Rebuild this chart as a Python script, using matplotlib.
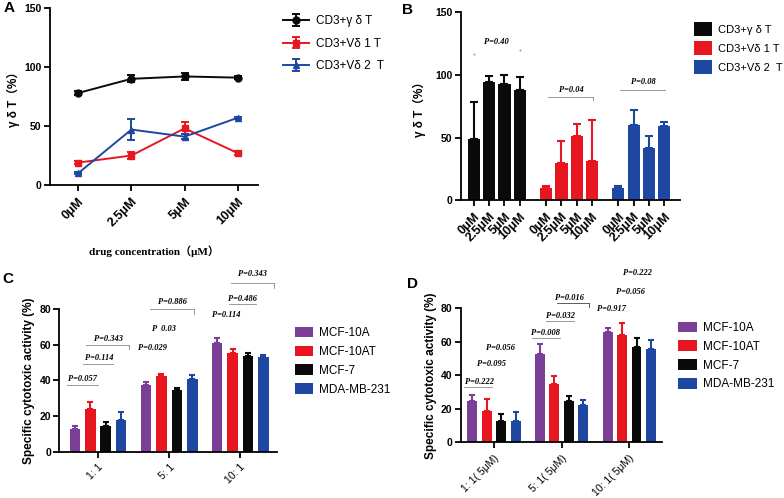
import numpy as np
import matplotlib
matplotlib.use("Agg")
import matplotlib.pyplot as plt

plt.rcParams['font.family'] = ['Liberation Sans', 'Noto Sans CJK SC', 'DejaVu Sans']
plt.rcParams['axes.linewidth'] = 1.3

BLACK = '#0a0a0a'
RED = '#e8161e'
BLUE = '#1d47a0'
PURPLE = '#7b3f98'

# ---- panel A / B data
conc = ['0μM', '2.5μM', '5μM', '10μM']
a_gd = [78, 90, 92, 91]
a_gd_err = [1.5, 3, 3, 1]
a_v1 = [19, 25, 48, 27]
a_v1_err = [1.5, 3, 5, 1.5]
a_v2 = [10, 47, 41, 57]
a_v2_err = [1, 9, 2, 1]

b_gd = [49, 94, 93, 88]
b_gd_err = [29, 5, 7, 10]
b_v1 = [10, 30, 51, 31]
b_v1_err = [1, 17, 10, 33]
b_v2 = [10, 60, 42, 59]
b_v2_err = [1, 12, 9, 3]
series_labels = ['CD3+γ δ T', 'CD3+Vδ 1 T', 'CD3+Vδ 2  T']

# ---- panel C / D data
cells = ['MCF-10A', 'MCF-10AT', 'MCF-7', 'MDA-MB-231']
c_ratio = ['1: 1', '5: 1', '10: 1']
c_vals = [[12.5, 37.5, 61], [24, 42.5, 55.5], [14.5, 34.5, 53.5], [17.5, 41, 53]]
c_err = [[2, 1.5, 3], [4, 1, 2], [2, 1, 2], [4.5, 2, 1.2]]
d_ratio = ['1: 1( 5μM)', '5: 1( 5μM)', '10: 1( 5μM)']
d_vals = [[24.5, 53, 66], [18.5, 35, 64], [13, 24.5, 57], [12.5, 22, 55.5]]
d_err = [[3.5, 6, 2], [7.5, 4.5, 7.5], [4, 3, 5.5], [5.5, 3.5, 5.5]]


def style_axes(ax, xsize=8.5):
    ax.spines['top'].set_visible(False)
    ax.spines['right'].set_visible(False)
    ax.tick_params(axis='both', direction='out', width=1.3, length=4)
    ax.tick_params(axis='y', labelsize=7.5, pad=2)
    ax.tick_params(axis='x', labelsize=xsize)
    for lab in ax.get_yticklabels() + ax.get_xticklabels():
        lab.set_fontweight('bold')


def pval(ax, x, y, txt, x0=None, x1=None, ly=None, hook=False, lc='#888888'):
    ax.text(x, y, txt, fontsize=6, style='italic', fontweight='bold',
            family='Liberation Serif', ha='center', va='center', clip_on=False)
    if x0 is not None:
        ax.plot([x0, x1], [ly, ly], color=lc, lw=0.6, clip_on=False)
        if hook:
            ax.plot([x1, x1], [ly, ly - 2.5], color=lc, lw=0.6, clip_on=False)


fig = plt.figure(figsize=(7.84, 4.98), dpi=100)

# ---------------- A
axA = fig.add_axes([0.0638, 0.6285, 0.2653, 0.3554])
xa = np.arange(len(conc))
for vals, err, col, mk, lab in [(a_gd, a_gd_err, BLACK, 'o', series_labels[0]),
                                (a_v1, a_v1_err, RED, 's', series_labels[1]),
                                (a_v2, a_v2_err, BLUE, '^', series_labels[2])]:
    axA.errorbar(xa, vals, yerr=err, color=col, marker=mk, markersize=5, lw=1.4,
                 capsize=3, elinewidth=1.4, capthick=1.4, label=lab)
axA.set_xlim(-0.53, 3.38)
axA.set_ylim(0, 150)
axA.set_yticks([0, 50, 100, 150])
axA.set_xticks(xa)
axA.set_xticklabels(conc, rotation=45, ha='right', rotation_mode='anchor')
axA.set_ylabel('γ δ T（%）', fontsize=8.5, fontweight='bold')
axA.yaxis.set_label_coords(-0.145, 0.5)
axA.set_xlabel('drug concentration（μM）', fontsize=8, fontweight='bold',
               family=['Liberation Serif', 'Noto Sans CJK SC'], labelpad=12)
style_axes(axA, 9)
axA.legend(loc='upper left', bbox_to_anchor=(1.07, 1.02), frameon=False, fontsize=8.5,
           handlelength=2.2, handletextpad=0.6, labelspacing=0.9)
fig.text(0.005, 0.975, 'A', fontsize=11, fontweight='bold')

# ---------------- B
axB = fig.add_axes([0.588, 0.598, 0.2793, 0.3775])
offs = [0, 4.75, 9.5]
for g, (vals, err, col) in enumerate([(b_gd, b_gd_err, BLACK), (b_v1, b_v1_err, RED),
                                      (b_v2, b_v2_err, BLUE)]):
    xb = offs[g] + np.arange(4)
    axB.bar(xb, vals, width=0.8, color=col, label=series_labels[g])
    axB.errorbar(xb, vals, yerr=[np.zeros(4), err], fmt='none', ecolor=col,
                 elinewidth=1.5, capsize=3, capthick=1.5)
axB.set_xlim(-0.86, 13.55)
axB.set_ylim(0, 150)
axB.set_yticks([0, 50, 100, 150])
axB.set_xticks(np.concatenate([o + np.arange(4) for o in offs]))
axB.set_xticklabels(conc * 3, rotation=45, ha='right', rotation_mode='anchor')
axB.set_ylabel('γ δ T（%）', fontsize=8.5, fontweight='bold')
axB.yaxis.set_label_coords(-0.16, 0.5)
style_axes(axB, 9)
pval(axB, 1.45, 126, 'P=0.40')
axB.plot([0.0], [117], marker='.', ms=1, color='#999999')
axB.plot([3.0], [120], marker='.', ms=1, color='#999999')
pval(axB, 6.43, 88, 'P=0.04', 4.89, 7.81, 82.4, hook=True)
pval(axB, 11.14, 94, 'P=0.08', 9.6, 12.57, 87.8)
axB.legend(loc='upper left', bbox_to_anchor=(1.02, 1.0), frameon=False, fontsize=8,
           handlelength=1.6, handleheight=1.5, handletextpad=0.5, labelspacing=0.5)
fig.text(0.513, 0.972, 'B', fontsize=11, fontweight='bold')


def bar_panel(rect, vals, err, ratio, gstep, xlim, legend_anchor):
    ax = fig.add_axes(rect)
    cols = [PURPLE, RED, BLACK, BLUE]
    centers = np.arange(len(ratio)) * gstep
    for i in range(4):
        xs = centers + (i - 1.5)
        ax.bar(xs, vals[i], width=0.68, color=cols[i], label=cells[i])
        ax.errorbar(xs, vals[i], yerr=[np.zeros(3), err[i]], fmt='none', ecolor=cols[i],
                    elinewidth=1.5, capsize=2.5, capthick=1.5)
    ax.set_xlim(*xlim)
    ax.set_ylim(0, 80)
    ax.set_yticks([0, 20, 40, 60, 80])
    ax.set_xticks(centers)
    ax.set_xticklabels(ratio, rotation=45, ha='right', rotation_mode='anchor')
    ax.set_ylabel('Specific cytotoxic activity (%)', fontsize=8.5, fontweight='bold', labelpad=3)
    style_axes(ax, 7.5)
    for lab in ax.get_xticklabels():
        lab.set_fontweight('normal')
    ax.legend(loc='upper left', bbox_to_anchor=legend_anchor, frameon=False, fontsize=8.5,
              handlelength=1.6, handleheight=1.0, handletextpad=0.5, labelspacing=0.55)
    return ax


# ---------------- C
axC = bar_panel([0.0757, 0.093, 0.2781, 0.2865], c_vals, c_err, c_ratio, 4.6,
                (-2.5, 11.6), (1.03, 0.95))
pval(axC, -0.99, 40.6, 'P=0.057', -2.0, 0.0, 37.5)
pval(axC, 0.11, 52.4, 'P=0.114', -1.0, 1.0, 49.0)
pval(axC, 0.65, 63, 'P=0.343', -0.8, 2.0, 59.8, hook=True)
pval(axC, 3.55, 58, 'P=0.029')
pval(axC, 4.3, 69, 'P  0.03')
pval(axC, 4.8, 84, 'P=0.886', 3.38, 6.24, 79.8, hook=True)
pval(axC, 8.28, 76.6, 'P=0.114')
pval(axC, 9.35, 85.6, 'P=0.486', 8.45, 10.2, 82.6)
pval(axC, 10.0, 99.6, 'P=0.343', 8.6, 11.4, 94.4, hook=True)
fig.text(0.003, 0.432, 'C', fontsize=11, fontweight='bold')

# ---------------- D
axD = bar_panel([0.5876, 0.1118, 0.2564, 0.269], d_vals, d_err, d_ratio, 4.68,
                (-2.3, 11.6), (1.03, 0.98))
pval(axD, -1.03, 36.2, 'P=0.222', -2.1, -0.16, 33.2)
pval(axD, -0.16, 46.7, 'P=0.095')
pval(axD, 0.46, 56.5, 'P=0.056')
pval(axD, 3.59, 65.4, 'P=0.008', 2.64, 4.55, 62.1)
pval(axD, 4.6, 75.6, 'P=0.032', 3.59, 5.52, 72.6)
pval(axD, 5.24, 86, 'P=0.016', 4.37, 6.57, 83.3, hook=True, lc='#444444')
pval(axD, 8.1, 79.4, 'P=0.917')
pval(axD, 9.43, 89.9, 'P=0.056')
pval(axD, 9.9, 100.9, 'P=0.222')
fig.text(0.519, 0.422, 'D', fontsize=11, fontweight='bold')

plt.savefig('out.png', dpi=100)
